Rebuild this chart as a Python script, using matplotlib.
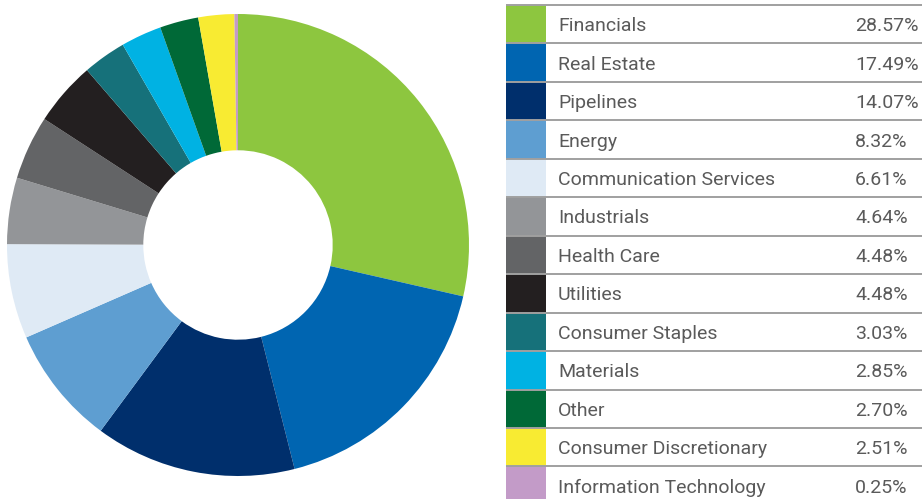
import matplotlib.pyplot as plt

sectors = ["Financials", "Real Estate", "Pipelines", "Energy",
           "Communication Services", "Industrials", "Health Care",
           "Utilities", "Consumer Staples", "Materials", "Other",
           "Consumer Discretionary", "Information Technology"]
weights = [28.57, 17.49, 14.07, 8.32, 6.61, 4.64, 4.48,
           4.48, 3.03, 2.85, 2.70, 2.51, 0.25]
colors = ["#8DC63F", "#0065B1", "#002F6C", "#5E9ED1", "#DFEAF5",
          "#939598", "#636466", "#231F20", "#16717A", "#00B2E3",
          "#006937", "#F8EB32", "#C39BC8"]

W, H = 922, 499
fig = plt.figure(figsize=(W / 100, H / 100), dpi=100)

# donut
cx, cy, r = 238, 245, 231
ax = fig.add_axes([(cx - r) / W, (H - cy - r) / H, 2 * r / W, 2 * r / H])
ax.pie(weights, colors=colors, startangle=90, counterclock=False,
       wedgeprops=dict(width=0.59, linewidth=0))
ax.set_xlim(-1, 1)
ax.set_ylim(-1, 1)
ax.set_aspect("equal")
ax.axis("off")

# table legend in pixel coords
tab = fig.add_axes([0, 0, 1, 1])
tab.set_xlim(0, W)
tab.set_ylim(H, 0)
tab.axis("off")

top, rh = 5, 38.45
rows = range(len(sectors))
tab.barh([top + rh * (i + 0.5) for i in rows], 40, left=506, height=rh,
         color=colors, linewidth=0)
for i in rows:
    y = top + rh * i
    tab.plot([506, W], [y, y], color="#A0A0A0", lw=1.4, solid_capstyle="butt")
    tab.text(558, y + rh / 2 + 2, sectors[i], fontsize=14, color="#5a5a5a",
             family="Roboto", va="center", ha="left")
    tab.text(855, y + rh / 2 + 2, f"{weights[i]:.2f}%", fontsize=14,
             color="#5a5a5a", family="Roboto", va="center", ha="left")

fig.savefig("out.png", dpi=100)
